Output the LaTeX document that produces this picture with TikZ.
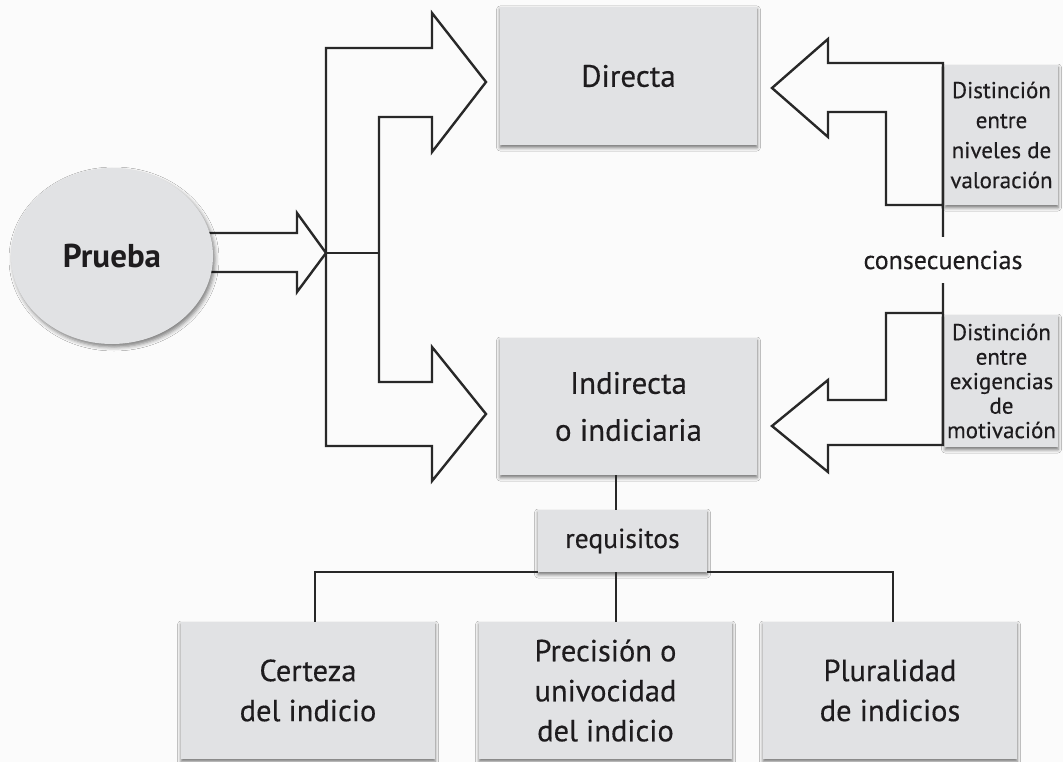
\documentclass[tikz,border=0pt]{standalone}
\usepackage{fontspec}
\setmainfont{PT Sans}[FakeBold=0.35]
\newfontfamily\heavyfont{PT Sans Bold}
\usetikzlibrary{shapes.geometric,shadows.blur}
\definecolor{boxfill}{RGB}{225,226,228}
\definecolor{ln}{RGB}{40,40,40}
\definecolor{bg}{RGB}{251,251,251}
\definecolor{txt}{RGB}{30,28,30}
\begin{document}
\begin{tikzpicture}[x=1pt,y=-1pt,
  box/.style={rectangle, fill=boxfill, inner sep=0pt, align=center, text=txt,
    blur shadow={shadow xshift=0pt, shadow yshift=-2.5pt, shadow blur radius=3.5pt, shadow opacity=55}},
  bigtxt/.style={font=\fontsize{31}{47}\selectfont},
  lowtxt/.style={font=\fontsize{30.5}{40}\selectfont},
  conn/.style={draw=ln, line width=2.4pt},
  blockarrow/.style={draw=ln, line width=2.4pt, line join=miter},
]
\fill[bg] (0,0) rectangle (1063,762);
\useasboundingbox (0,0) rectangle (1063,762);

% boxes
\node[box, bigtxt, minimum width=257, minimum height=138] (dir) at (628.5,76) {Directa};
\node[box, bigtxt, minimum width=257, minimum height=137] (ind) at (628.5,406.5) {Indirecta\\o indiciaria};
\node[box, font=\fontsize{27.5}{32}\selectfont, minimum width=169, minimum height=62] (req) at (622.5,541) {requisitos};
\node[box, lowtxt, minimum width=254, minimum height=137] (cert) at (308,690.5) {Certeza\\del indicio};
\node[box, lowtxt, minimum width=253, minimum height=137] (prec) at (605.5,690.5) {Precisión o\\univocidad\\del indicio};
\node[box, lowtxt, minimum width=254, minimum height=137] (plur) at (890,690.5) {Pluralidad\\de indicios};
\node[box, font=\fontsize{23}{30}\selectfont, minimum width=113, minimum height=140] (niv) at (1001.5,135) {Distinción\\entre\\niveles de\\valoración};
\node[box, font=\fontsize{23}{24.5}\selectfont, minimum width=113, minimum height=132] (mot) at (1001.5,381) {Distinción\\entre\\exigencias\\de\\motivación};
\node[inner sep=0pt, text=txt, font=\fontsize{26}{30}\selectfont] (cons) at (943,260) {consecuencias};

% small arrow from Prueba
\draw[blockarrow] (200,233) -- (297,233) -- (297,213) -- (326,253) -- (297,292) -- (297,272) -- (200,272);
\node[ellipse, fill=boxfill, inner sep=0pt, minimum width=202, minimum height=176, text=txt,
  font=\heavyfont\fontsize{33}{38}\selectfont,
  blur shadow={shadow xshift=2pt, shadow yshift=-3pt, shadow blur radius=4pt, shadow opacity=50}] (pru) at (112,256) {Prueba};

% left block arrows
\draw[blockarrow] (326,48) -- (432,48) -- (432,13) -- (486,82) -- (432,152) -- (432,117) -- (379,117)
  -- (379,382) -- (432,382) -- (432,347) -- (486,414) -- (432,481) -- (432,446) -- (326,446) -- cycle;
\draw[conn] (326,253) -- (379,253);

% right block arrows
\draw[blockarrow] (943,237) -- (943,63) -- (828,63) -- (828,39) -- (772,88) -- (828,137) -- (828,112)
  -- (886,112) -- (886,205) -- (943,205);
\draw[blockarrow] (943,283) -- (943,445) -- (828,445) -- (828,472) -- (772,426) -- (828,380) -- (828,400)
  -- (886,400) -- (886,313) -- (943,313);

% bottom tree
\coordinate (vx) at (616,0);
\coordinate (cl) at (315,0);
\coordinate (cr) at (893,0);
\draw[conn] (ind.south -| vx) -- (req.north -| vx);
\draw[conn] (req.south west) -- (req.south west -| cl) -- (cl |- cert.north);
\draw[conn] (req.south east) -- (req.south east -| cr) -- (cr |- plur.north);
\draw[conn] (req.south -| vx) -- (prec.north -| vx);
\end{tikzpicture}
\end{document}
